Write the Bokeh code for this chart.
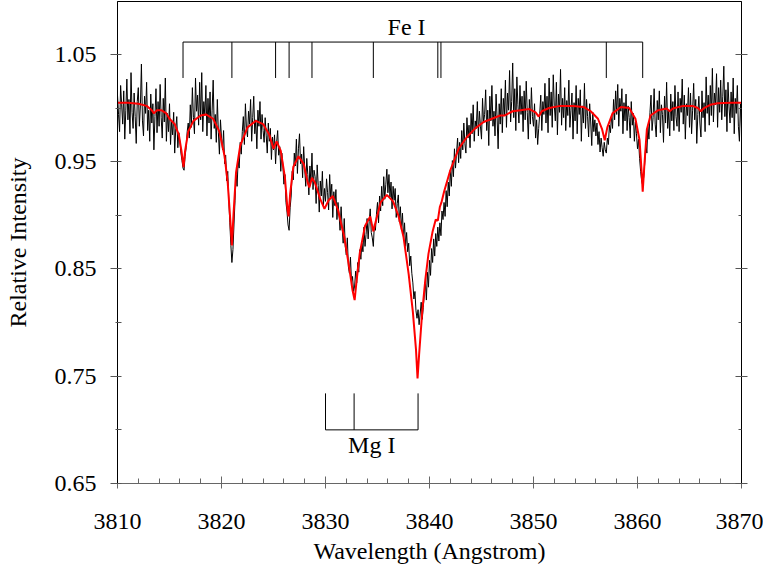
import numpy as np
from bokeh.plotting import figure
from bokeh.models import Range1d, FixedTicker, LinearAxis, CustomJSTickFormatter
from bokeh.core.properties import value
from bokeh.embed import file_html
from bokeh.resources import INLINE

# ---------------- data ----------------
# observed spectrum, sampled every 0.1 Angstrom from 3810.0 to 3870.0
obs_flux = [
    1.012, 0.994, 0.978, 1.021, 1.003, 0.985, 1.016, 0.971, 0.998, 1.027,
    0.989, 1.008, 0.976, 1.033, 0.996, 0.981, 1.014, 0.992, 0.967, 1.006,
    1.019, 0.983, 1.002, 1.041, 0.988, 0.974, 1.011, 0.995, 1.024, 0.979,
    0.998, 0.969, 1.013, 0.986, 1.004, 0.961, 0.992, 1.018, 0.977, 1.006,
    0.983, 1.022, 0.991, 0.972, 1.009, 0.987, 1.028, 0.969, 0.995, 0.978,
    1.004, 0.966, 0.988, 0.975, 0.996, 0.958, 0.981, 0.992, 0.963, 0.977,
    0.968, 0.958, 0.951, 0.944, 0.942, 0.955, 0.963, 0.978, 0.986, 0.972,
    1.003, 0.982, 1.019, 0.991, 0.976, 1.028, 0.997, 1.012, 0.984, 1.024,
    0.989, 1.033, 0.978, 1.006, 0.993, 1.021, 0.974, 1.009, 0.986, 1.015,
    0.971, 0.998, 1.026, 0.981, 0.994, 0.968, 1.008, 0.977, 0.957, 0.989,
    0.972, 0.961, 0.979, 0.948, 0.956, 0.932, 0.941, 0.915, 0.893, 0.872,
    0.856, 0.868, 0.891, 0.914, 0.938, 0.927, 0.951, 0.944, 0.968, 0.957,
    0.978, 0.992, 0.966, 1.004, 0.981, 0.973, 0.997, 0.985, 1.008, 0.969,
    0.991, 1.011, 0.976, 0.989, 0.962, 0.998, 0.983, 1.006, 0.971, 0.994,
    0.979, 0.968, 0.991, 0.974, 0.958, 0.986, 0.969, 0.981, 0.952, 0.973,
    0.961, 0.975, 0.948, 0.968, 0.979, 0.956, 0.964, 0.941, 0.958, 0.947,
    0.929, 0.938, 0.912, 0.903, 0.891, 0.886, 0.907, 0.918, 0.941, 0.933,
    0.958, 0.946, 0.971, 0.939, 0.962, 0.976, 0.948, 0.957, 0.935, 0.964,
    0.944, 0.927, 0.953, 0.938, 0.919, 0.946, 0.931, 0.958, 0.924, 0.942,
    0.936, 0.911, 0.947, 0.928, 0.903, 0.932, 0.918, 0.941, 0.909, 0.925,
    0.913, 0.934, 0.921, 0.905, 0.938, 0.917, 0.929, 0.898, 0.922, 0.909,
    0.924, 0.896, 0.912, 0.901, 0.886, 0.908, 0.889, 0.874, 0.897, 0.871,
    0.863, 0.879, 0.852, 0.846, 0.861, 0.838, 0.843, 0.829, 0.834, 0.848,
    0.837, 0.856, 0.847, 0.868, 0.859, 0.874, 0.866, 0.889, 0.871, 0.882,
    0.897, 0.878, 0.894, 0.906, 0.884, 0.879, 0.871, 0.892, 0.886, 0.901,
    0.912, 0.893, 0.918, 0.904, 0.927, 0.909, 0.936, 0.915, 0.929, 0.943,
    0.921, 0.938, 0.917, 0.931, 0.906, 0.927, 0.914, 0.925, 0.898, 0.911,
    0.919, 0.894, 0.908, 0.887, 0.902, 0.879, 0.893, 0.871, 0.884, 0.866,
    0.874, 0.853, 0.862, 0.846, 0.837, 0.822, 0.829, 0.811, 0.804, 0.812,
    0.798, 0.808, 0.819, 0.803, 0.814, 0.826, 0.838, 0.821, 0.847, 0.833,
    0.858, 0.844, 0.869, 0.856, 0.878, 0.862, 0.883, 0.871, 0.889, 0.876,
    0.893, 0.881, 0.904, 0.896, 0.912, 0.899, 0.923, 0.908, 0.931, 0.918,
    0.942, 0.927, 0.951, 0.936, 0.962, 0.944, 0.958, 0.972, 0.949, 0.968,
    0.953, 0.979, 0.961, 0.986, 0.967, 0.958, 0.991, 0.972, 0.984, 0.963,
    0.995, 0.976, 1.003, 0.969, 0.988, 0.981, 1.006, 0.974, 0.997, 0.983,
    0.971, 1.009, 0.986, 0.994, 1.017, 0.979, 0.998, 0.965, 1.011, 0.988,
    1.021, 0.983, 0.997, 0.974, 1.013, 0.991, 0.962, 1.004, 0.985, 1.018,
    0.977, 1.009, 0.993, 1.026, 0.982, 1.014, 0.998, 1.035, 0.987, 1.006,
    1.042, 0.991, 1.018, 0.979, 1.029, 1.003, 0.986, 1.021, 0.994, 1.011,
    0.978, 1.016, 0.989, 1.025, 0.996, 0.971, 1.008, 0.985, 1.019, 0.992,
    0.983, 1.004, 0.972, 0.989, 0.966, 0.981, 0.995, 1.012, 0.979, 1.006,
    0.994, 1.023, 0.986, 1.011, 0.977, 1.028, 0.993, 1.015, 0.982, 1.031,
    1.002, 0.988, 1.024, 0.975, 1.013, 0.996, 1.036, 0.984, 1.009, 0.991,
    1.019, 0.979, 1.007, 0.993, 1.026, 0.982, 0.998, 1.014, 0.971, 1.005,
    0.988, 1.021, 0.976, 1.009, 0.994, 1.017, 0.969, 1.002, 0.986, 1.023,
    0.981, 1.008, 0.992, 0.973, 1.004, 0.987, 0.965, 0.996, 0.978, 0.989,
    0.974, 0.986, 0.966, 0.978, 0.959, 0.972, 0.963, 0.955, 0.968, 0.961,
    0.958, 0.972, 0.966, 0.984, 0.977, 0.993, 0.981, 1.008, 0.989, 1.016,
    0.994, 1.022, 0.983, 1.009, 0.997, 1.018, 0.976, 1.005, 0.988, 1.013,
    0.979, 1.002, 0.991, 0.972, 1.006, 0.984, 0.995, 0.969, 0.987, 0.976,
    0.962, 0.971, 0.953, 0.941, 0.932, 0.928, 0.936, 0.949, 0.967, 0.958,
    0.983, 0.971, 0.996, 1.012, 0.979, 0.991, 1.018, 0.985, 0.973, 1.007,
    0.989, 1.016, 0.977, 1.003, 0.994, 0.968, 1.011, 0.986, 1.024, 0.981,
    0.997, 0.974, 1.013, 0.988, 1.006, 0.979, 1.021, 0.992, 0.983, 1.015,
    0.978, 1.009, 0.996, 1.027, 0.985, 1.012, 0.971, 1.004, 0.993, 1.019,
    0.982, 1.014, 0.976, 0.998, 1.023, 0.989, 1.008, 0.967, 0.994, 1.011,
    0.986, 0.973, 1.016, 0.991, 1.005, 0.978, 1.029, 0.995, 1.012, 0.984,
    1.021, 0.993, 1.037, 0.987, 1.014, 1.003, 1.032, 0.982, 1.019, 0.996,
    1.026, 0.989, 1.011, 1.039, 0.992, 1.017, 0.978, 1.024, 1.001, 0.986,
    1.015, 0.991, 1.028, 0.976, 1.009, 0.995, 1.021, 0.983, 0.969, 1.004,
    0.981,
]
obs_wl = np.linspace(3810.0, 3870.0, len(obs_flux))

# synthetic model spectrum (red)
model_wl = [
    3810.0, 3811.0, 3812.0, 3812.8, 3813.3, 3813.5, 3813.8, 3814.2, 3814.7, 3815.0,
    3815.3, 3815.5, 3815.9, 3816.15, 3816.35, 3816.5, 3816.8, 3817.3, 3818.0, 3818.5,
    3819.2, 3819.8, 3820.3, 3820.6, 3820.85, 3821.0, 3821.15, 3821.4, 3821.8, 3822.5,
    3823.3, 3824.0, 3824.6, 3825.0, 3825.3, 3825.7, 3826.1, 3826.35, 3826.45, 3826.6,
    3826.9, 3827.4, 3827.9, 3828.3, 3828.45, 3828.7, 3829.0, 3829.5, 3829.9, 3830.3,
    3830.7, 3831.2, 3831.8, 3832.3, 3832.6, 3832.8, 3833.0, 3833.3, 3833.8, 3834.3,
    3834.6, 3834.8, 3835.3, 3835.9, 3836.5, 3837.0, 3837.5, 3838.0, 3838.4, 3838.7,
    3838.85, 3839.0, 3839.3, 3839.6, 3839.9, 3840.3, 3840.6, 3840.8, 3841.0, 3841.15,
    3841.4, 3842.0, 3842.8, 3843.6, 3844.4, 3845.2, 3846.0, 3846.8, 3847.2, 3848.0,
    3848.75, 3849.6, 3850.2, 3850.5, 3850.8, 3851.5, 3852.6, 3853.8, 3854.8, 3855.5,
    3856.2, 3856.6, 3856.85, 3857.1, 3857.6, 3858.4, 3859.2, 3859.8, 3860.2, 3860.4,
    3860.5, 3860.65, 3860.9, 3861.25, 3862.0, 3862.8, 3863.1, 3863.4, 3864.4, 3865.3,
    3865.8, 3866.1, 3866.4, 3867.0, 3867.7, 3869.0, 3870.0,
]
model_flux = [
    1.005, 1.005, 1.004, 1.002, 0.998, 0.995, 0.998, 0.998, 0.995, 0.990,
    0.987, 0.985, 0.975, 0.960, 0.945, 0.960, 0.978, 0.988, 0.993, 0.994,
    0.990, 0.978, 0.955, 0.930, 0.895, 0.872, 0.900, 0.940, 0.965, 0.982,
    0.988, 0.985, 0.975, 0.962, 0.969, 0.960, 0.935, 0.905, 0.899, 0.920,
    0.945, 0.955, 0.948, 0.930, 0.926, 0.935, 0.930, 0.915, 0.906, 0.914,
    0.918, 0.905, 0.880, 0.850, 0.830, 0.821, 0.840, 0.865, 0.890, 0.899,
    0.885, 0.893, 0.912, 0.919, 0.913, 0.900, 0.880, 0.845, 0.810, 0.775,
    0.748, 0.770, 0.810, 0.840, 0.864, 0.885, 0.896, 0.895, 0.908, 0.912,
    0.922, 0.942, 0.962, 0.973, 0.981, 0.987, 0.990, 0.993, 0.993, 0.997,
    0.998, 0.999, 0.996, 0.992, 0.997, 1.000, 1.002, 1.002, 1.001, 0.997,
    0.990, 0.980, 0.970, 0.982, 0.995, 1.001, 1.000, 0.990, 0.970, 0.940,
    0.922, 0.945, 0.980, 0.993, 0.998, 0.9995, 0.997, 0.9995, 1.002, 1.002,
    1.000, 0.997, 1.000, 1.003, 1.0045, 1.005, 1.005,
]

fe_lines = [3816.3, 3821.0, 3825.2, 3826.5, 3828.7, 3834.6, 3840.8, 3841.1, 3857.0, 3860.5]
mg_lines = [3830.0, 3832.75, 3838.9]
fe_label = "Fe I"
mg_label = "Mg I"

x_ticks = [3810, 3820, 3830, 3840, 3850, 3860, 3870]
x_minor = [3812, 3814, 3816, 3818, 3822, 3824, 3826, 3828, 3832, 3834, 3836, 3838,
           3842, 3844, 3846, 3848, 3852, 3854, 3856, 3858, 3862, 3864, 3866, 3868]
y_ticks = [0.65, 0.75, 0.85, 0.95, 1.05]
y_minor = [0.70, 0.80, 0.90, 1.00]

FONT = "Liberation Serif"
FS = "24px"

X0, X1 = 3810.0, 3870.0
Y0, Y1 = 0.65, 1.0993
W, H = 763, 566
BL, BR, BT, BB = 117, 22, 1, 82

p = figure(width=W, height=H,
           x_range=Range1d(X0, X1), y_range=Range1d(Y0, Y1),
           output_backend="svg", toolbar_location=None,
           min_border_left=BL, min_border_right=BR, min_border_top=BT, min_border_bottom=BB)
p.grid.visible = False
p.outline_line_color = "black"
p.outline_line_width = 1
p.background_fill_color = "white"
p.border_fill_color = "white"

# spectra
p.line(obs_wl, obs_flux, line_color="black", line_width=1)
p.line(model_wl, model_flux, line_color="#ff0000", line_width=2)

# line identifications
fe_top, fe_bot = 1.0615, 1.028
mg_bot, mg_top = 0.700, 0.734
p.segment(x0=fe_lines, y0=[fe_top] * len(fe_lines), x1=fe_lines, y1=[fe_bot] * len(fe_lines),
          line_color="black", line_width=1)
p.segment(x0=[min(fe_lines)], y0=[fe_top], x1=[max(fe_lines)], y1=[fe_top],
          line_color="black", line_width=1)
p.segment(x0=mg_lines, y0=[mg_bot] * len(mg_lines), x1=mg_lines, y1=[mg_top] * len(mg_lines),
          line_color="black", line_width=1)
p.segment(x0=[min(mg_lines)], y0=[mg_bot], x1=[max(mg_lines)], y1=[mg_bot],
          line_color="black", line_width=1)
p.text(x=[3837.8], y=[1.0758], text=[fe_label], text_font=value(FONT), text_font_size=FS,
       text_align="center", text_baseline="middle", text_color="black")
p.text(x=[(min(mg_lines) + max(mg_lines)) / 2], y=[0.686], text=[mg_label], text_font=value(FONT),
       text_font_size=FS, text_align="center", text_baseline="middle", text_color="black")

# axes
xa = p.xaxis[0]
xa.ticker = FixedTicker(ticks=x_ticks, minor_ticks=x_minor)
xa.axis_label = "Wavelength (Angstrom)"
xa.axis_line_color = "#666666"
xa.major_tick_line_color = "#666666"
xa.minor_tick_line_color = "#666666"
xa.major_tick_in = 7
xa.major_tick_out = 5
xa.minor_tick_in = 5
xa.minor_tick_out = 0
xa.major_label_standoff = 25
xa.axis_label_standoff = 6

ya = p.yaxis[0]
ya.ticker = FixedTicker(ticks=y_ticks, minor_ticks=y_minor)
ya.axis_label = "Relative Intensity"
ya.axis_line_color = "black"
ya.major_tick_line_color = "#555555"
ya.minor_tick_line_color = "#555555"
ya.major_tick_in = 4
ya.major_tick_out = 7
ya.minor_tick_in = 4
ya.minor_tick_out = 2
ya.major_label_standoff = 14
ya.axis_label_standoff = 21

for ax in (xa, ya):
    ax.major_label_text_font = FONT
    ax.major_label_text_font_size = FS
    ax.major_label_text_color = "black"
    ax.axis_label_text_font = FONT
    ax.axis_label_text_font_size = FS
    ax.axis_label_text_font_style = "normal"
    ax.axis_label_text_color = "black"

# right frame edge ticks, no labels
ra = LinearAxis(ticker=FixedTicker(ticks=y_ticks, minor_ticks=y_minor),
                formatter=CustomJSTickFormatter(code="return ''"))
ra.axis_line_color = "black"
ra.major_tick_line_color = "#555555"
ra.minor_tick_line_color = "#555555"
ra.major_tick_in = 6
ra.major_tick_out = 6
ra.minor_tick_in = 3
ra.minor_tick_out = 0
ra.major_label_standoff = 0
p.add_layout(ra, "right")

open("out.html", "w").write(file_html(p, INLINE))
